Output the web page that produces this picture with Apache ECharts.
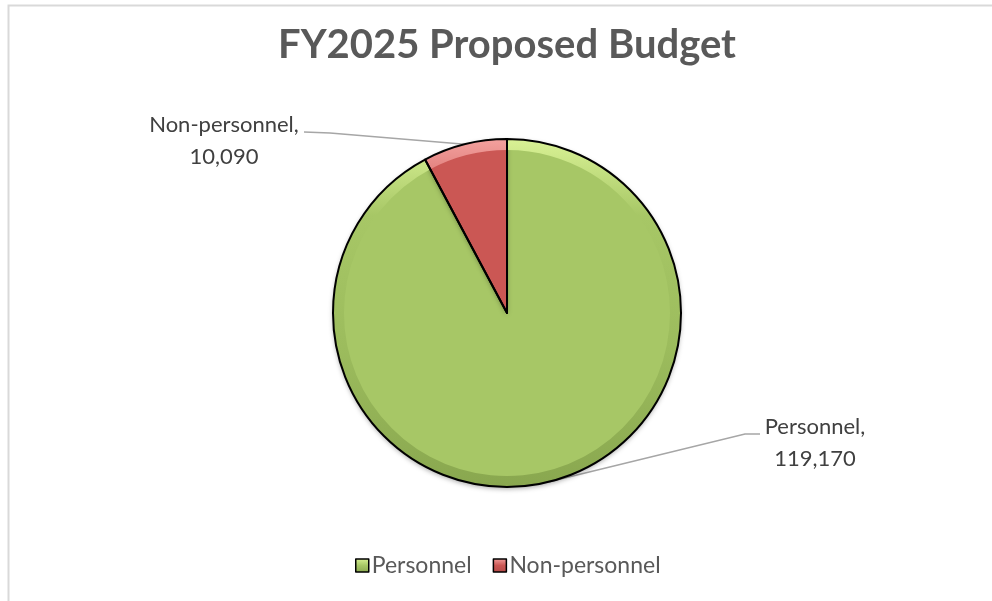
<!DOCTYPE html>
<html>
<head>
<meta charset="utf-8">
<script src="https://cdn.jsdelivr.net/npm/echarts@6/dist/echarts.min.js"></script>
<style>
  html, body { margin: 0; padding: 0; background: #fff; }
  #chart { width: 992px; height: 601px; }
</style>
</head>
<body>
<div id="chart"></div>
<script>
// Budget breakdown (thousands)
const categories = ['Personnel', 'Non-personnel'];
const amounts = [119170, 10090];
const chartTitle = 'FY2025 Proposed Budget';

// Fill, rim and legend colours per category
const baseColors = ['#a7c766', '#cb5754'];
const rimTop = ['#d9f295', '#f3a19e'];
const rimBottom = ['#89a74f', '#b34a47'];

const CX = 507, CY = 313, R = 174;
const FONT = 'Lato, "Open Sans", sans-serif';

// Where each outside label sits and how its leader line bends
const labelSpots = [
  { x: 815, y: 443, elbow: [745, 434], end: [760, 434] },
  { x: 224, y: 141, elbow: [330, 133], end: [304, 132] }
];

const fmt = v => v.toLocaleString('en-US');

function rimGradient(i) {
  return {
    type: 'linear', global: true,
    x: 0, y: CY - R, x2: 0, y2: CY + R,
    colorStops: [
      { offset: 0, color: rimTop[i] },
      { offset: 0.22, color: baseColors[i] },
      { offset: 0.6, color: i === 0 ? '#9cbc5d' : rimBottom[i] },
      { offset: 1, color: rimBottom[i] }
    ]
  };
}

function legendIcon(i) {
  return {
    type: 'linear', x: 0, y: 0, x2: 0, y2: 1,
    colorStops: [
      { offset: 0, color: rimTop[i] },
      { offset: 0.5, color: baseColors[i] },
      { offset: 1, color: rimBottom[i] }
    ]
  };
}

const pieData = categories.map((name, i) => ({
  name, value: amounts[i],
  itemStyle: { color: baseColors[i] }
}));

const rimData = categories.map((name, i) => ({
  name, value: amounts[i],
  itemStyle: { color: rimGradient(i) }
}));

const outlineData = categories.map((name, i) => ({ name, value: amounts[i] }));

const chart = echarts.init(document.getElementById('chart'), null, { renderer: 'canvas' });

chart.setOption({
  backgroundColor: '#ffffff',
  animation: false,
  title: {
    text: chartTitle,
    left: 278,
    top: 25,
    padding: 0,
    textStyle: { fontFamily: FONT, fontWeight: 'bold', fontSize: 40, color: '#595959' }
  },
  legend: {
    bottom: 24,
    left: 355,
    padding: 0,
    icon: 'rect',
    itemWidth: 13,
    itemHeight: 13,
    itemGap: 21,
    textStyle: { fontFamily: FONT, fontSize: 23, color: '#595959', padding: [0, 0, 0, -2] },
    data: categories.map((name, i) => ({
      name,
      itemStyle: { color: legendIcon(i), borderColor: '#000', borderWidth: 1.5 }
    }))
  },
  graphic: [{
    type: 'rect',
    silent: true,
    shape: { x: 8.5, y: 5.5, width: 1000, height: 700 },
    style: { fill: null, stroke: '#d9d9d9', lineWidth: 2 }
  }],
  series: [
    {
      name: 'base',
      type: 'pie',
      center: [CX, CY],
      radius: R,
      startAngle: 90,
      clockwise: true,
      data: pieData,
      itemStyle: {
        borderWidth: 0,
        shadowColor: 'rgba(0,0,0,0.35)', shadowBlur: 5, shadowOffsetY: 2
      },
      emphasis: { disabled: true },
      label: {
        show: true,
        position: 'outside',
        fontFamily: FONT,
        fontSize: 22,
        lineHeight: 32,
        color: '#404040',
        align: 'center',
        formatter: p => p.name + ',\n' + fmt(p.value)
      },
      labelLine: {
        show: true,
        length: 20, length2: 20,
        lineStyle: { color: '#a6a6a6', width: 1.5 }
      },
      labelLayout: function (params) {
        const spot = labelSpots[params.dataIndex];
        let anchor = params.labelLinePoints && params.labelLinePoints[0];
        if (!anchor) {
          // mid angle of the slice, measured clockwise from 12 o'clock
          const total = amounts.reduce((a, b) => a + b, 0);
          let before = 0;
          for (let k = 0; k < params.dataIndex; k++) before += amounts[k];
          const mid = (before + amounts[params.dataIndex] / 2) / total * Math.PI * 2;
          anchor = [CX + R * Math.sin(mid), CY - R * Math.cos(mid)];
        }
        return {
          x: spot.x, y: spot.y,
          align: 'center', verticalAlign: 'middle',
          labelLinePoints: [anchor, spot.elbow, spot.end]
        };
      }
    },
    {
      name: 'rim',
      type: 'pie',
      silent: true,
      center: [CX, CY],
      radius: [R - 11, R],
      startAngle: 90,
      clockwise: true,
      data: rimData,
      itemStyle: { borderWidth: 0 },
      label: { show: false },
      labelLine: { show: false },
      emphasis: { disabled: true }
    },
    {
      name: 'outline',
      type: 'pie',
      silent: true,
      center: [CX, CY],
      radius: R,
      startAngle: 90,
      clockwise: true,
      data: outlineData,
      itemStyle: { color: 'rgba(0,0,0,0)', borderColor: '#000', borderWidth: 2 },
      label: { show: false },
      labelLine: { show: false },
      emphasis: { disabled: true }
    }
  ]
});
</script>
</body>
</html>
